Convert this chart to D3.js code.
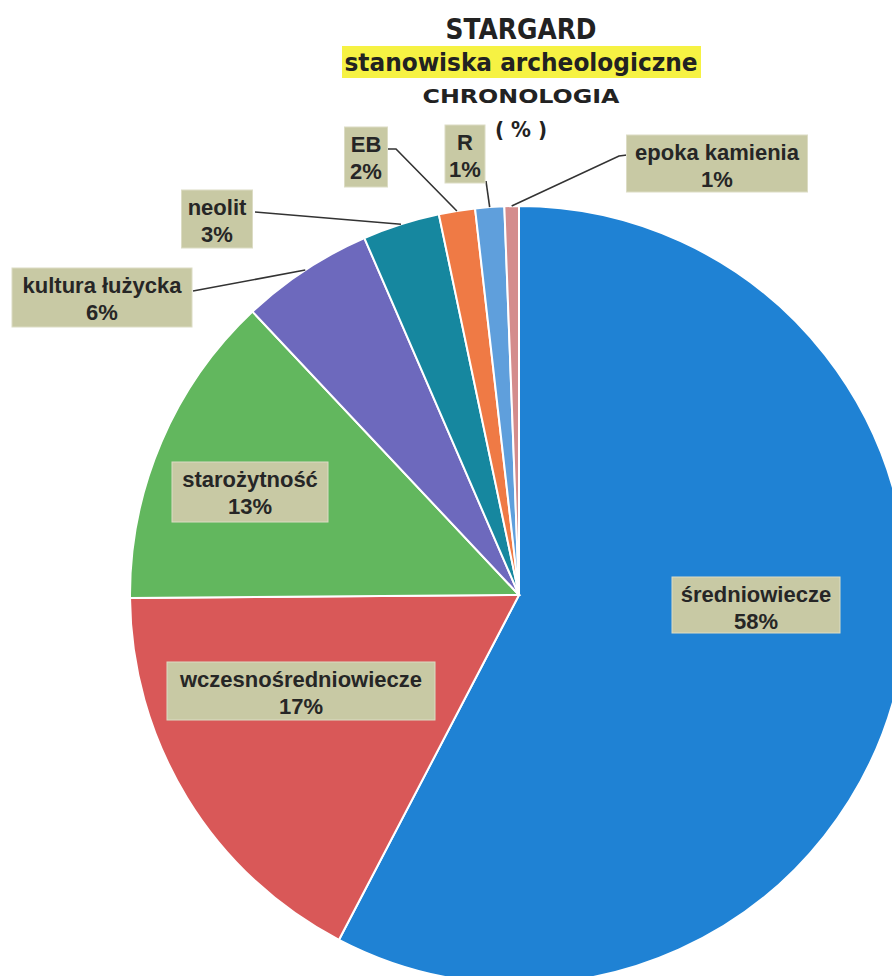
<!DOCTYPE html>
<html>
<head>
<meta charset="utf-8">
<script src="https://cdn.jsdelivr.net/npm/d3@7"></script>
<style>
  body { margin:0; background:#fff; }
  svg { display:block; }
</style>
</head>
<body>
<div id="chart"></div>
<script>
// Data ---------------------------------------------
var categories = ['średniowiecze', 'wczesnośredniowiecze', 'starożytność', 'kultura łużycka',
                  'neolit', 'EB', 'R', 'epoka kamienia'];
var values = [57.6, 17.2, 13.1, 5.5, 3.2, 1.5, 1.2, 0.6]; // percent
var sliceColors = ['#1f82d4', '#d95858', '#62b75e', '#6d69bd', '#16879f', '#ef7a45', '#5f9fdc', '#d48c8c'];
var titleLines = ['STARGARD', 'stanowiska archeologiczne', 'CHRONOLOGIA', '( % )'];

// Display attributes -------------------------------
var width = 892, height = 976;
var center = {x: 519, y: 595};
var radius = 389;

// label boxes: centre x, top y, width, height; leader start point (null = label sits on slice)
var labelLayout = [
  {cx: 756, top: 577, w: 168, h: 56, lead: null},
  {cx: 301, top: 662, w: 268, h: 58, lead: null},
  {cx: 250, top: 462, w: 156, h: 60, lead: null},
  {cx: 102, top: 268, w: 180, h: 59, lead: [[193, 291]]},
  {cx: 217, top: 190, w: 71,  h: 58, lead: [[255, 212]]},
  {cx: 366, top: 127, w: 43,  h: 60, lead: [[388, 149], [396, 149]]},
  {cx: 465, top: 125, w: 40,  h: 58, lead: [[486, 181]]},
  {cx: 717, top: 135, w: 181, h: 57, lead: [[627, 155], [619, 156]]}
];

var svg = d3.select('#chart').append('svg')
    .attr('width', width)
    .attr('height', height);

// Title --------------------------------------------
var titleFont = '"DejaVu Sans", sans-serif';
svg.append('rect')
    .attr('x', 342).attr('y', 46)
    .attr('width', 359).attr('height', 32)
    .attr('fill', '#f6f243');

var titleSpec = [
  {y: 39, size: 28, len: 151},
  {y: 71, size: 24, len: 353},
  {y: 103, size: 20, len: 197},
  {y: 137, size: 22, len: 52}
];
svg.selectAll('text.title')
    .data(titleLines)
    .enter().append('text')
    .attr('class', 'title')
    .attr('x', 521)
    .attr('y', function(d, i) { return titleSpec[i].y; })
    .attr('text-anchor', 'middle')
    .attr('textLength', function(d, i) { return titleSpec[i].len; })
    .attr('lengthAdjust', 'spacingAndGlyphs')
    .style('font-family', titleFont)
    .style('font-weight', 'bold')
    .style('font-size', function(d, i) { return titleSpec[i].size + 'px'; })
    .style('fill', '#222')
    .text(function(d) { return d; });

// Pie ----------------------------------------------
var pie = d3.pie().sort(null).value(function(d) { return d; });
var arc = d3.arc().innerRadius(0).outerRadius(radius);
var arcs = pie(values);

var pieG = svg.append('g')
    .attr('transform', 'translate(' + center.x + ',' + center.y + ')');

pieG.selectAll('path')
    .data(arcs)
    .enter().append('path')
    .attr('d', arc)
    .attr('fill', function(d, i) { return sliceColors[i]; })
    .attr('stroke', '#fff')
    .attr('stroke-width', 2);

// Leader lines -------------------------------------
var edgePoint = function(d) {
  var a = (d.startAngle + d.endAngle) / 2;
  return [center.x + radius * Math.sin(a), center.y - radius * Math.cos(a)];
};

arcs.forEach(function(d, i) {
  var lay = labelLayout[i];
  if (!lay.lead) return;
  var pts = lay.lead.concat([edgePoint(d)]);
  svg.append('path')
      .attr('d', d3.line()(pts))
      .attr('fill', 'none')
      .attr('stroke', '#333')
      .attr('stroke-width', 1.6);
});

// Labels -------------------------------------------
var labelFont = '"Liberation Sans", Arial, sans-serif';
var labels = svg.selectAll('g.lbl')
    .data(arcs)
    .enter().append('g')
    .attr('class', 'lbl');

labels.append('rect')
    .attr('x', function(d, i) { return labelLayout[i].cx - labelLayout[i].w / 2; })
    .attr('y', function(d, i) { return labelLayout[i].top; })
    .attr('width', function(d, i) { return labelLayout[i].w; })
    .attr('height', function(d, i) { return labelLayout[i].h; })
    .attr('fill', '#c8c9a4')
    .attr('stroke', '#dcdcc4')
    .attr('stroke-width', 1);

labels.append('text')
    .attr('x', function(d, i) { return labelLayout[i].cx; })
    .attr('y', function(d, i) { return labelLayout[i].top + 25; })
    .attr('text-anchor', 'middle')
    .style('font-family', labelFont)
    .style('font-weight', 'bold')
    .style('font-size', '22px')
    .style('fill', '#262626')
    .text(function(d, i) { return categories[i]; });

labels.append('text')
    .attr('x', function(d, i) { return labelLayout[i].cx; })
    .attr('y', function(d, i) { return labelLayout[i].top + 52; })
    .attr('text-anchor', 'middle')
    .style('font-family', labelFont)
    .style('font-weight', 'bold')
    .style('font-size', '22px')
    .style('fill', '#262626')
    .text(function(d) { return Math.round(d.data) + '%'; });
</script>
</body>
</html>
